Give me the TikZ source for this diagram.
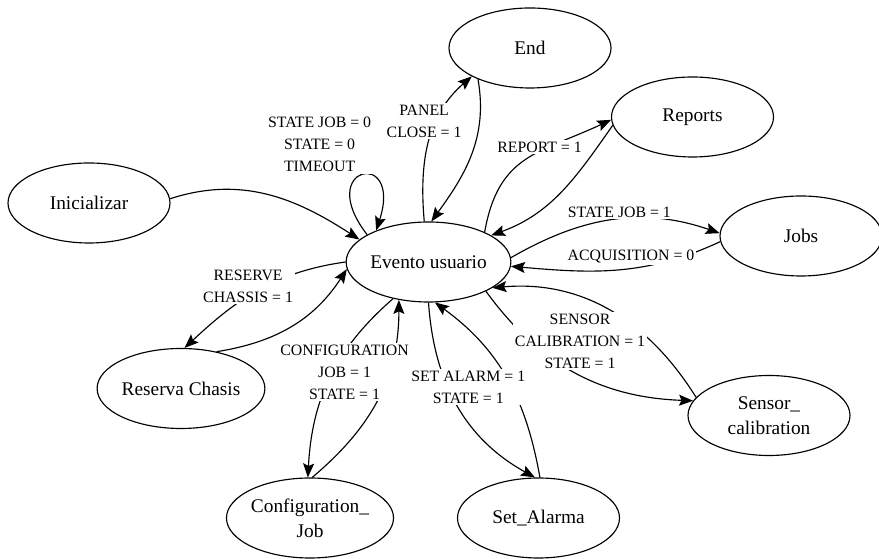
\documentclass[tikz,border=0pt]{standalone}
\usepackage{fontspec}
\setmainfont{Liberation Serif}
\usetikzlibrary{arrows.meta, positioning, shapes.geometric}

\begin{document}
\begin{tikzpicture}[
    % Estilos globales
    >={Stealth[length=2.8mm, width=2.2mm, inset=0.5mm]}, % Punta de flecha
    % Estilo para los estados (elipses)
    estado/.style = {
        ellipse,
        draw=black,
        line width=0.65pt,
        minimum width=3.24cm,
        minimum height=1.6cm,
        inner sep=0pt,
        align=center,
        font=\fontsize{11}{14}\selectfont
    },
    % Estilo para las etiquetas de las transiciones
    etiqueta/.style = {
        fill=white,
        inner sep=1pt,
        align=center,
        font=\fontsize{9}{12.5}\selectfont
    },
    % Estilo de las líneas
    transicion/.style = {draw, ->, line width=0.65pt, black}
]
    \useasboundingbox (0,0) rectangle (17.58,11.18);

    % --- NODOS ---

    % 1. Nodo central: Evento usuario
    \node [estado] (evento) at (8.57,5.94) {Evento usuario};

    % 2. Nodos de arriba y derecha
    \node [estado] (fin) at (10.60,10.22) {End};
    \node [estado] (reportes) at (13.85,8.84) {Reports};
    \node [estado] (jobs) at (16.02,6.46) {Jobs};
    \node [estado] (sensor) at (15.38,2.87) {Sensor\_\\calibration};

    % 3. Nodos de abajo
    \node [estado] (alarma) at (10.77,0.82) {Set\_Alarma};
    \node [estado] (config) at (6.20,0.82) {Configuration\_\\Job};

    % 4. Nodos de la izquierda
    \node [estado] (reserva) at (3.62,3.41) {Reserva Chasis};
    \node [estado] (ini) at (1.78,7.12) {Inicializar};

    % --- CONEXIONES ---

    % Primero las que pasan por debajo de una etiqueta
    \draw [transicion] (ini.3) to[out=18, in=147] (evento.162);
    \draw [transicion] (fin.211) to[out=280, in=54] (evento.86);
    \draw [transicion] (reportes.186) to[out=235, in=20] (evento.23);
    \draw [transicion] (evento.333) to[out=306, in=178] (sensor.169);
    \draw [transicion] (alarma.88) to[out=100, in=324] (evento.279);
    \draw [transicion] (config.87) to[out=40, in=270] (evento.232);
    \draw [transicion] (reserva.46) to[out=9, in=237] (evento.185);

    % Bucle sobre Evento usuario
    \draw [transicion] (evento.156) to[out=128, in=72, min distance=1.75cm]
        node [etiqueta, pos=0.5, xshift=-0.84cm, yshift=0.62cm] {STATE JOB = 0\\STATE = 0\\TIMEOUT} (evento.149);

    % Evento hacia End
    \draw [transicion] (evento.96) to[out=95, in=221]
        node [etiqueta, pos=0.6, xshift=-0.2cm, yshift=0.12cm] {PANEL\\CLOSE = 1} (fin.206);

    % Evento hacia Reports
    \draw [transicion] (evento.28) to[out=80, in=205, looseness=1.2]
        node [etiqueta, pos=0.6, yshift=0.08cm] {REPORT = 1} (reportes.182);

    % Ida y vuelta con Jobs
    \draw [transicion] (evento.3) to[out=30, in=161]
        node [etiqueta, pos=0.5, above, xshift=0.13cm] {STATE JOB = 1} (jobs.178);
    \draw [transicion] (jobs.184) to[out=205, in=355]
        node [etiqueta, pos=0.4, xshift=-0.14cm, yshift=0.21cm] {ACQUISITION = 0} (evento.357);

    % Sensor hacia Evento
    \draw [transicion] (sensor.166) to[out=122, in=5]
        node [etiqueta, pos=0.5, xshift=-0.6cm, yshift=-0.6cm] {SENSOR\\CALIBRATION = 1\\STATE = 1} (evento.338);

    % Evento hacia Set_Alarma
    \draw [transicion] (evento.270) to[out=274, in=151]
        node [etiqueta, pos=0.4, xshift=0.4cm] {SET ALARM = 1\\STATE = 1} (alarma.95);

    % Evento hacia Configuration_Job
    \draw [transicion] (evento.226) to[out=221, in=87]
        node [etiqueta, pos=0.5, xshift=0.29cm, yshift=0.12cm] {CONFIGURATION\\JOB = 1\\STATE = 1} (config.93);

    % Evento hacia Reserva Chasis
    \draw [transicion] (evento.180) to[out=188, in=43]
        node [etiqueta, pos=0.5, xshift=-0.2cm, yshift=0.09cm] {RESERVE\\CHASSIS = 1} (reserva.85);

\end{tikzpicture}
\end{document}
